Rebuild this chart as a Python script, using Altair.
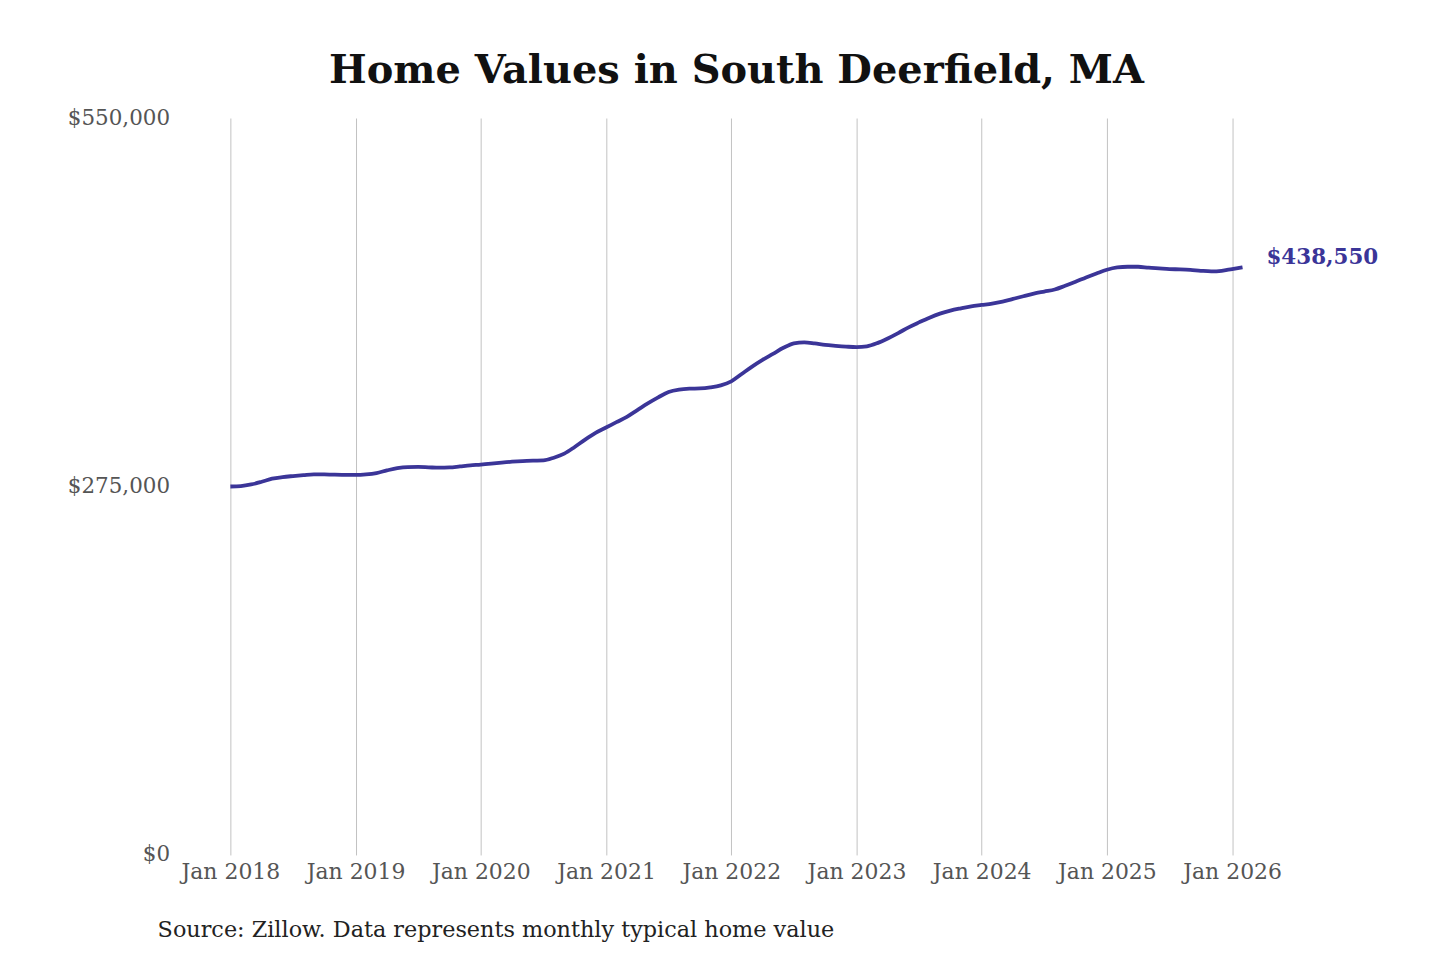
import altair as alt
import pandas as pd

title_text = "Home Values in South Deerfield, MA"
source_text = "Source: Zillow. Data represents monthly typical home value"
end_label = "$438,550"

start_year = 2018
tick_years = [2018, 2019, 2020, 2021, 2022, 2023, 2024, 2025, 2026]
y_ticks = [0, 275000, 550000]

# Monthly typical home value (thousands of $), Jan 2018 .. Feb 2026
v2018 = [275.0, 275.3, 276.5, 278.5, 280.8, 282.0, 282.8, 283.5, 284.1, 284.0, 283.8, 283.7]
v2019 = [283.6, 284.0, 285.0, 287.0, 288.7, 289.5, 289.6, 289.3, 289.0, 289.2, 290.0, 290.8]
v2020 = [291.3, 292.0, 292.8, 293.5, 294.0, 294.3, 294.5, 296.5, 299.5, 304.5, 310.0, 315.0]
v2021 = [319.0, 323.0, 327.0, 332.0, 337.0, 341.5, 345.5, 347.3, 348.0, 348.2, 349.0, 350.5]
v2022 = [353.5, 359.0, 364.5, 369.5, 374.0, 378.5, 381.8, 382.6, 381.8, 380.7, 380.0, 379.4]
v2023 = [379.0, 379.6, 382.0, 385.5, 389.5, 393.8, 397.5, 401.0, 404.0, 406.3, 408.0, 409.5]
v2024 = [410.5, 411.5, 413.0, 415.0, 417.0, 419.0, 420.5, 422.0, 424.8, 427.8, 431.0, 434.0]
v2025 = [436.8, 438.5, 439.0, 439.0, 438.3, 437.8, 437.3, 437.0, 436.6, 436.0, 435.6, 436.0]
v2026 = [437.3, 438.55]

values_k = v2018 + v2019 + v2020 + v2021 + v2022 + v2023 + v2024 + v2025 + v2026

df = pd.DataFrame({
    "t": [start_year + i / 12 for i in range(len(values_k))],
    "value": [round(v * 1000) for v in values_k],
})
df_last = df.tail(1).assign(label=end_label)
df_src = pd.DataFrame({"s": [source_text]})

LINE = "#3b3598"
FONT = "DejaVu Serif"

x_enc = alt.X(
    "t:Q",
    scale=alt.Scale(domain=[2018, 2026 + 1 / 12], nice=False, zero=False),
    axis=alt.Axis(
        values=tick_years,
        labelExpr="'Jan ' + datum.value",
        grid=True,
        gridColor="#c2c2c2",
        gridWidth=1,
        domain=False,
        ticks=False,
        labelFlush=False,
        labelFont=FONT,
        labelFontSize=22,
        labelColor="#555555",
        labelPadding=7,
        title=None,
    ),
)
y_enc = alt.Y(
    "value:Q",
    scale=alt.Scale(domain=[0, 550000], nice=False),
    axis=alt.Axis(
        values=y_ticks,
        format="$,.0f",
        grid=False,
        domain=False,
        ticks=False,
        labelFont=FONT,
        labelFontSize=21.5,
        labelColor="#555555",
        labelPadding=61,
        title=None,
    ),
)

line = alt.Chart(df).mark_line(
    color=LINE, strokeWidth=3.8, interpolate="monotone"
).encode(x=x_enc, y=y_enc)

end_text = alt.Chart(df_last).mark_text(
    align="left", baseline="middle", dx=24, dy=-9,
    font=FONT, fontSize=21.5, fontWeight="bold", color=LINE,
).encode(x="t:Q", y="value:Q", text="label:N")

src = alt.Chart(df_src).mark_text(
    align="left", baseline="middle", font=FONT, fontSize=22.4, color="#222222",
).encode(text="s:N", x=alt.value(-73), y=alt.value(814))

chart = alt.layer(line, end_text, src).properties(
    width=1015,
    height=739,
    title=alt.TitleParams(
        title_text, font=FONT, fontSize=40, fontWeight="bold",
        color="#111111", anchor="middle", offset=16,
    ),
    autosize=alt.AutoSizeParams(type="none"),
    padding={"left": 223, "top": 109, "right": 190, "bottom": 100},
).configure(background="white").configure_view(strokeWidth=0)

chart.save("out.html", embed_options={"renderer": "svg", "actions": False})
